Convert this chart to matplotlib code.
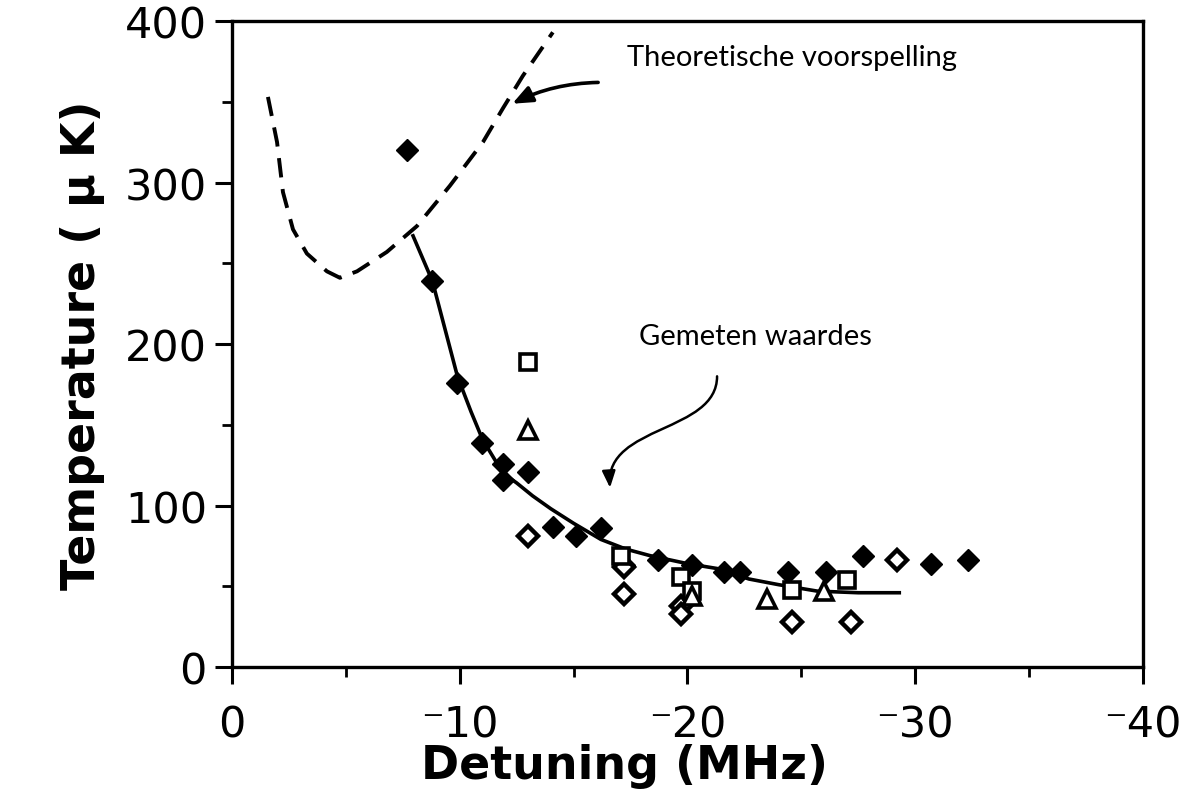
import matplotlib
matplotlib.use("Agg")
import matplotlib.pyplot as plt
from matplotlib.path import Path
from matplotlib.patches import FancyArrowPatch

# detuning in MHz (negative), temperature in microkelvin
filled_x = [-7.7, -8.8, -9.9, -11.0, -11.9, -11.9, -13.0, -14.1, -15.1, -16.2,
            -17.2, -18.7, -20.2, -21.6, -22.3, -24.4, -26.1, -27.7, -30.7, -32.3]
filled_t = [320, 239, 176, 139, 126, 116, 121, 87, 81, 86,
            63, 66, 63, 59, 59, 59, 59, 69, 64, 66]

open_diamond_x = [-13.0, -17.2, -17.2, -19.7, -19.7, -24.6, -27.2, -29.2]
open_diamond_t = [81, 62, 45, 38, 33, 28, 28, 66]

square_x = [-13.0, -17.1, -19.7, -20.2, -24.6, -27.0]
square_t = [189, 69, 56, 47, 48, 54]

triangle_x = [-13.0, -20.2, -23.5, -26.0]
triangle_t = [147, 44, 42, 47]

# fit through measured values (solid line)
fit_x = [-7.95, -8.8, -9.9, -10.5, -11.0, -11.9, -12.5, -13.2, -14.0, -15.0, -16.2,
         -17.3, -18.35, -20.0, -21.3, -22.7, -24.0, -25.7, -27.5, -29.3]
fit_t = [267, 239, 180, 158, 141, 120, 114, 106, 98, 89, 79,
         73, 69, 64, 61, 54.5, 51, 47, 46, 46]

# theoretical prediction (dashed line)
theory_x = [-1.58, -1.98, -2.24, -2.68, -3.29, -4.17, -4.74, -5.49, -6.80, -8.12,
            -9.57, -11.02, -11.90, -12.77, -14.09]
theory_t = [353, 325, 294, 271, 256, 245, 241, 245, 257, 273,
            298, 325, 346, 366, 393]

x_ticks = [0, -10, -20, -30, -40]
x_labels = ["0", "\u207b10", "\u207b20", "\u207b30", "\u207b40"]
y_ticks = [0, 100, 200, 300, 400]

fig = plt.figure(figsize=(11.81, 8.12), dpi=100)
ax = fig.add_axes([0.1964, 0.1773, 0.7714, 0.7956])

ax.plot(theory_x, theory_t, color="black", lw=2.8, dashes=(5, 3))
ax.plot(fit_x, fit_t, color="black", lw=2.6)

ax.plot(filled_x, filled_t, "D", color="black", ms=11, mec="black")
ax.plot(open_diamond_x, open_diamond_t, "D", ms=10, mfc="white", mec="black", mew=3.2)
ax.plot(square_x, square_t, "s", ms=12, mfc="white", mec="black", mew=2.6)
ax.plot(triangle_x, triangle_t, "^", ms=13, mfc="white", mec="black", mew=2.6)

ax.set_xlim(0, -40)
ax.set_ylim(0, 400)
ax.set_xticks(x_ticks)
ax.set_xticklabels(x_labels)
ax.set_xticks([-5, -15, -25, -35], minor=True)
ax.set_yticks(y_ticks)
ax.set_yticks([50, 150, 250, 350], minor=True)

for s in ax.spines.values():
    s.set_linewidth(2.4)

ax.tick_params(axis="both", which="major", direction="out", length=12, width=2.2,
               labelsize=31, pad=6)
ax.tick_params(axis="both", which="minor", direction="out", length=7, width=2.0)
ax.tick_params(axis="x", pad=14)
for lab in ax.get_xticklabels() + ax.get_yticklabels():
    lab.set_family("DejaVu Sans")

ax.set_xlabel("Detuning (MHz)", fontsize=33, fontweight="bold",
              family="DejaVu Sans")
ax.xaxis.set_label_coords(0.431, -0.118)
ax.set_ylabel("Temperature ( \u03bc K)", fontsize=33, fontweight="bold",
              family="DejaVu Sans", labelpad=14)

# annotation texts
ax.text(-24.6, 378, "Theoretische voorspelling", fontsize=21, family="Lato",
        ha="center", va="center")
ax.text(-23.0, 205, "Gemeten waardes", fontsize=21, family="Lato",
        ha="center", va="center")

arrow1 = FancyArrowPatch((-16.2, 362), (-12.2, 348), connectionstyle="arc3,rad=0.12",
                         arrowstyle="-|>,head_length=12,head_width=5", lw=2.6,
                         color="black", mutation_scale=1)
ax.add_patch(arrow1)

# S-shaped arrow towards the measured values
verts = [(-21.3, 180), (-21.3, 145), (-16.4, 150), (-16.6, 111)]
s_path = Path(verts, [Path.MOVETO, Path.CURVE4, Path.CURVE4, Path.CURVE4])
arrow2 = FancyArrowPatch(path=s_path, arrowstyle="-|>,head_length=10,head_width=4",
                         lw=1.8, color="black", mutation_scale=1)
ax.add_patch(arrow2)

plt.savefig("out.png", dpi=100)
